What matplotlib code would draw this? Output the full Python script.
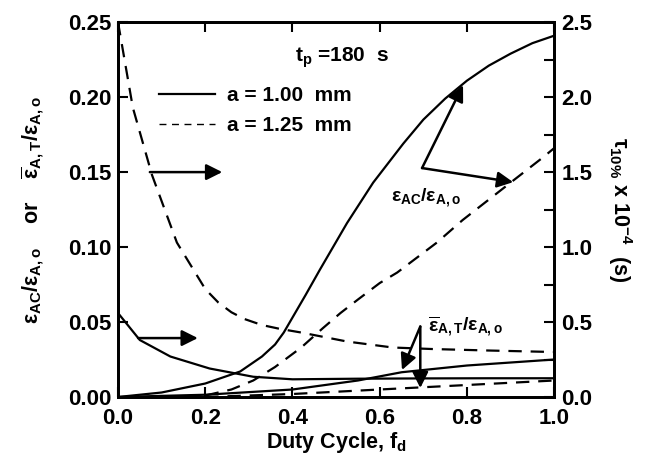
import matplotlib
matplotlib.use("Agg")
import matplotlib.pyplot as plt
from matplotlib.lines import Line2D

plt.rcParams['font.family'] = ['Liberation Sans', 'DejaVu Sans']
plt.rcParams['font.weight'] = 'bold'
plt.rcParams['mathtext.fontset'] = 'custom'
plt.rcParams['mathtext.rm'] = 'Liberation Sans:bold'
plt.rcParams['mathtext.it'] = 'Liberation Sans:bold'
plt.rcParams['mathtext.bf'] = 'Liberation Sans:bold'

# ---- data ----
# eps_AC / eps_A,o, a = 1.00 mm (left axis)
x_ac_100 = [0.0, 0.1, 0.2, 0.28, 0.33, 0.36, 0.38, 0.40, 0.43, 0.463, 0.525, 0.585, 0.654, 0.70, 0.75, 0.80, 0.85, 0.9, 0.95, 1.0]
y_ac_100 = [0.0, 0.003, 0.009, 0.017, 0.027, 0.035, 0.043, 0.053, 0.068, 0.085, 0.116, 0.143, 0.169, 0.185, 0.199, 0.211, 0.221, 0.229, 0.236, 0.241]
# eps_AC / eps_A,o, a = 1.25 mm (left axis)
x_ac_125 = [0.15, 0.2, 0.26, 0.31, 0.36, 0.42, 0.47, 0.51, 0.55, 0.60, 0.64, 0.731, 0.79, 0.9, 0.975, 1.0]
y_ac_125 = [0.0, 0.001, 0.005, 0.011, 0.020, 0.033, 0.046, 0.056, 0.065, 0.076, 0.083, 0.103, 0.118, 0.143, 0.160, 0.166]
# mean eps_A,T / eps_A,o (left axis)
x_at_100 = [0.0, 0.2, 0.4, 0.55, 0.65, 0.8, 1.0]
y_at_100 = [0.0, 0.0015, 0.005, 0.011, 0.0165, 0.021, 0.025]
x_at_125 = [0.2, 0.4, 0.6, 0.7, 0.8, 1.0]
y_at_125 = [0.0, 0.002, 0.005, 0.0065, 0.008, 0.011]
# tau_10% x 1e-4 (s) (right axis)
x_tau_100 = [0.0, 0.05, 0.12, 0.21, 0.31, 0.40, 0.55, 0.7, 0.85, 1.0]
y_tau_100 = [0.56, 0.38, 0.27, 0.19, 0.135, 0.118, 0.122, 0.124, 0.125, 0.125]
x_tau_125 = [0.0, 0.034, 0.078, 0.135, 0.2, 0.23, 0.26, 0.29, 0.33, 0.37, 0.42, 0.525, 0.63, 0.72, 0.85, 1.0]
y_tau_125 = [2.5, 1.93, 1.48, 1.03, 0.72, 0.63, 0.565, 0.52, 0.48, 0.455, 0.43, 0.37, 0.33, 0.32, 0.31, 0.30]

legend_labels = ['a = 1.00  mm', 'a = 1.25  mm']
x_ticks = [0.0, 0.2, 0.4, 0.6, 0.8, 1.0]
y_ticks = [0.00, 0.05, 0.10, 0.15, 0.20, 0.25]
y2_ticks = [0.0, 0.5, 1.0, 1.5, 2.0, 2.5]

fig = plt.figure(figsize=(6.52, 4.62), dpi=100)
ax = fig.add_axes([0.181, 0.1407, 0.669, 0.8113])
ax2 = ax.twinx()

lw = 1.6
dash = (0, (6, 4))
ax.plot(x_ac_100, y_ac_100, 'k-', lw=lw)
ax.plot(x_ac_125, y_ac_125, color='k', ls=dash, lw=lw)
ax.plot(x_at_100, y_at_100, 'k-', lw=lw)
ax.plot(x_at_125, y_at_125, color='k', ls=dash, lw=lw)
ax2.plot(x_tau_100, y_tau_100, 'k-', lw=lw)
ax2.plot(x_tau_125, y_tau_125, color='k', ls=dash, lw=lw)

ax.set_xlim(0, 1.0)
ax.set_ylim(0, 0.25)
ax2.set_ylim(0, 2.5)
ax.set_xticks(x_ticks)
ax.set_xticklabels([f'{v:.1f}' for v in x_ticks])
ax.set_yticks(y_ticks)
ax.set_yticklabels([f'{v:.2f}' for v in y_ticks])
ax2.set_yticks(y2_ticks)
ax2.set_yticklabels([f'{v:.1f}' for v in y2_ticks])
ax2.set_yticks([0.25, 0.75, 1.25, 1.75, 2.25], minor=True)

fs = 16
ax.tick_params(axis='both', direction='in', length=7, width=1.5, labelsize=fs, top=True, right=False, pad=5)
ax.tick_params(axis='x', pad=8)
ax2.tick_params(axis='y', which='both', direction='in', length=7, width=1.5, labelsize=fs, pad=5)
for a in (ax, ax2):
    for s in a.spines.values():
        s.set_linewidth(2)

ax.set_xlabel(r'Duty Cycle, f$_{\mathbf{d}}$', fontsize=15.5, fontweight='bold', labelpad=1)
ax.set_ylabel(r'$\varepsilon_{AC}/\varepsilon_{A,o}$    or    $\overline{\varepsilon}_{A,T}/\varepsilon_{A,o}$',
              fontsize=15.5, fontweight='bold', labelpad=15)
ax2.set_ylabel(r'$\tau_{10\%}$ x 10$^{-4}$  (s)', fontsize=15.5, fontweight='bold', rotation=270, labelpad=30)

handles = [Line2D([], [], color='k', lw=lw), Line2D([], [], color='k', lw=1.0, ls=(0, (5, 4)))]
ax.legend(handles, legend_labels, loc='upper left', bbox_to_anchor=(0.05, 0.88), frameon=False,
          fontsize=15, handlelength=2.7, handletextpad=0.6, labelspacing=0.55)

ax.text(0.406, 0.226, r'$\mathrm{t_p}$ =180  s', fontsize=15, fontweight='bold', ha='left', va='center')

arrow = dict(arrowstyle='-|>', lw=1.8, color='k', mutation_scale=24, shrinkA=0, shrinkB=0)
ax.annotate('', xy=(0.239, 0.15), xytext=(0.073, 0.15), arrowprops=arrow)
ax.annotate('', xy=(0.183, 0.0393), xytext=(0.046, 0.0393), arrowprops=arrow)
ax.annotate('', xy=(0.791, 0.208), xytext=(0.697, 0.1527), arrowprops=arrow)
ax.annotate('', xy=(0.906, 0.1433), xytext=(0.697, 0.1527), arrowprops=arrow)
ax.annotate('', xy=(0.651, 0.018), xytext=(0.693, 0.047), arrowprops=arrow)
ax.annotate('', xy=(0.693, 0.006), xytext=(0.693, 0.047), arrowprops=arrow)

ax.text(0.705, 0.133, r'$\varepsilon_{AC}/\varepsilon_{A,o}$', fontsize=14, ha='center', va='center')
ax.text(0.71, 0.047, r'$\overline{\varepsilon}_{A,T}/\varepsilon_{A,o}$', fontsize=14, ha='left', va='center')

fig.savefig('out.png', dpi=100)
